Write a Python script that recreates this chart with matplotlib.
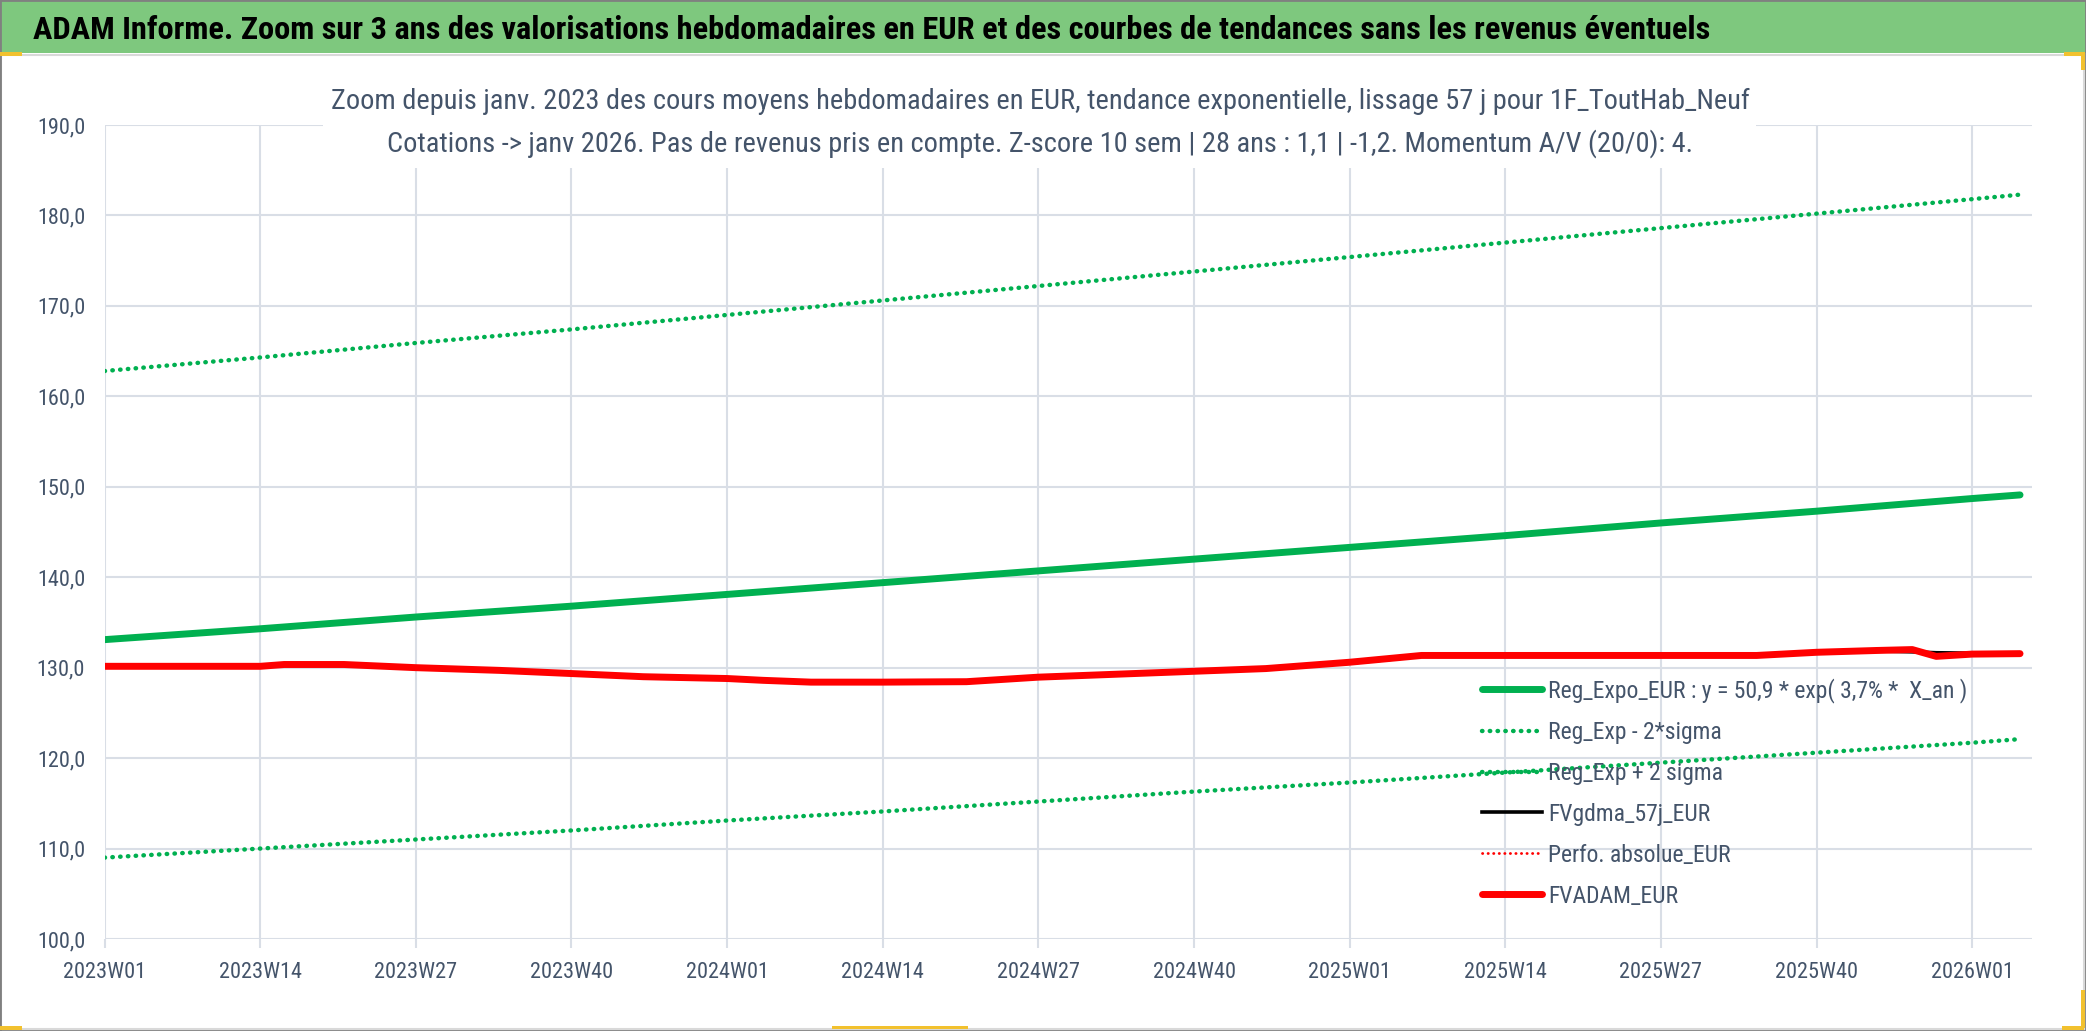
import matplotlib
matplotlib.use('Agg')
import matplotlib.pyplot as plt
from matplotlib.patches import Rectangle

plt.rcParams['font.family'] = ['Roboto Condensed', 'PT Sans Narrow', 'Archivo Narrow',
                               'IBM Plex Sans Condensed', 'DejaVu Sans']

# ---------------- data ----------------
weeks = ([f"{y}W{w:02d}" for y in (2023, 2024, 2025) for w in range(1, 53)]
         + [f"2026W{w:02d}" for w in range(1, 7)])
tick_labels = ["2023W01", "2023W14", "2023W27", "2023W40", "2024W01", "2024W14",
               "2024W27", "2024W40", "2025W01", "2025W14", "2025W27", "2025W40",
               "2026W01"]
trend_weeks = ["2023W01", "2023W14", "2023W27", "2023W40", "2024W01", "2024W14",
               "2024W27", "2024W40", "2025W01", "2025W14", "2025W27", "2025W40",
               "2026W01", "2026W05"]
reg_expo = [133.1, 134.3, 135.6, 136.8, 138.1, 139.4, 140.7, 142.0, 143.3,
            144.6, 146.0, 147.3, 148.7, 149.1]
reg_minus = [109.0, 110.0, 111.0, 112.0, 113.1, 114.1, 115.2, 116.3, 117.3,
             118.4, 119.5, 120.6, 121.7, 122.1]
reg_plus = [162.8, 164.3, 165.9, 167.4, 169.0, 170.6, 172.2, 173.8, 175.4,
            177.0, 178.6, 180.2, 181.8, 182.3]
fv_weeks = ["2023W01", "2023W14", "2023W16", "2023W21", "2023W27", "2023W34",
            "2023W40", "2023W46", "2024W01", "2024W04", "2024W08", "2024W14",
            "2024W21", "2024W27", "2024W34", "2024W40", "2024W46", "2025W01",
            "2025W05", "2025W07", "2025W35", "2025W40", "2025W45", "2025W48",
            "2025W50", "2026W01", "2026W05"]
fvadam = [130.15, 130.15, 130.35, 130.35, 130.0, 129.7, 129.35, 129.0, 128.8,
          128.6, 128.4, 128.4, 128.45, 128.95, 129.3, 129.6, 129.9, 130.6,
          131.1, 131.35, 131.35, 131.7, 131.9, 132.0, 131.25, 131.5, 131.55]
fvgdma = [130.15, 130.15, 130.3, 130.35, 130.0, 129.7, 129.35, 129.0, 128.85,
          128.65, 128.45, 128.45, 128.5, 128.95, 129.3, 129.6, 129.9, 130.5,
          131.0, 131.3, 131.35, 131.7, 131.85, 131.75, 131.65, 131.6, 131.55]
perfo_weeks = []
perfo = []

yticks = [100, 110, 120, 130, 140, 150, 160, 170, 180, 190]

title = ("ADAM Informe. Zoom sur 3 ans des valorisations hebdomadaires en EUR "
         "et des courbes de tendances sans les revenus éventuels")
subtitle1 = ("Zoom depuis janv. 2023 des cours moyens hebdomadaires en EUR, "
             "tendance exponentielle, lissage 57 j pour 1F_ToutHab_Neuf")
subtitle2 = ("Cotations -> janv 2026. Pas de revenus pris en compte. "
             "Z-score 10 sem | 28 ans : 1,1 | -1,2. Momentum A/V (20/0): 4.")
labels = ["Reg_Expo_EUR : y = 50,9 * exp( 3,7% *  X_an )", "Reg_Exp - 2*sigma",
          "Reg_Exp + 2 sigma", "FVgdma_57j_EUR", "Perfo. absolue_EUR", "FVADAM_EUR"]

# ---------------- figure ----------------
W, H = 2086, 1031
fig = plt.figure(figsize=(W / 100, H / 100), dpi=100)


def fx(p):
    return p / W


def fy(p):
    return 1 - p / H


# header band and chart background
fig.patches.append(Rectangle((0, fy(53)), 1, 53 / H, transform=fig.transFigure,
                             facecolor='#7EC87E', edgecolor='none', zorder=-2))
fig.patches.append(Rectangle((fx(1), fy(1029)), fx(2083), (1029 - 55) / H,
                             transform=fig.transFigure, facecolor='white',
                             edgecolor='#D9D9D9', lw=1.5, zorder=-2))
fig.text(fx(33), fy(30), title, fontsize=23.3, fontweight='bold', color='black',
         ha='left', va='center')

ax = fig.add_axes([fx(104.6), fy(939), fx(2032 - 104.6), (939 - 125) / H])
ax.set_facecolor('none')
for s in ax.spines.values():
    s.set_visible(False)

grid_c = '#D9DEE6'
ax.set_xlim(0, len(weeks) - 1)
ax.set_ylim(100, 190)
ax.set_yticks(yticks)
ax.set_yticklabels([f"{v:.1f}".replace('.', ',') for v in yticks])
ax.set_xticks([weeks.index(t) for t in tick_labels])
ax.set_xticklabels(tick_labels)
ax.grid(True, color=grid_c, lw=1.5, zorder=0)
ax.set_axisbelow(True)
ax.tick_params(axis='y', length=0, pad=14, labelsize=16, labelcolor='#44546A')
ax.tick_params(axis='x', length=6.5, width=1.5, color=grid_c, pad=10,
               labelsize=16, labelcolor='#44546A')

tx = [weeks.index(w) for w in trend_weeks]
fx_ = [weeks.index(w) for w in fv_weeks]
px_ = [weeks.index(w) for w in perfo_weeks]
dot = (0, (0.1, 1.65))
h1, = ax.plot(tx, reg_expo, color='#00B050', lw=5, solid_capstyle='round', zorder=3)
h2, = ax.plot(tx, reg_minus, color='#00B050', lw=3.2, ls=dot,
              dash_capstyle='round', zorder=3)
h3, = ax.plot(tx, reg_plus, color='#00B050', lw=3.2, ls=dot,
              dash_capstyle='round', zorder=3)
h4, = ax.plot(fx_, fvgdma, color='black', lw=2.6, zorder=4)
h5, = ax.plot(px_, perfo, color='#FF0000', lw=2.0, ls=(0, (0.1, 1.9)),
              dash_capstyle='round', zorder=4)
h6, = ax.plot(fx_, fvadam, color='#FF0000', lw=5, solid_capstyle='round', zorder=5)

leg = ax.legend([h1, h2, h3, h4, h5, h6], labels, loc='upper left',
                bbox_to_anchor=(fx(1482), fy(678)), bbox_transform=fig.transFigure,
                frameon=False, fontsize=17, handlelength=2.55, handletextpad=0.25,
                labelspacing=0.76, borderpad=0, borderaxespad=0)
for t in leg.get_texts():
    t.set_color('#44546A')

# subtitle box covering the top of the plot area
fig.patches.append(Rectangle((fx(323), fy(168)), fx(1756 - 323), (168 - 60) / H,
                             transform=fig.transFigure, facecolor='white',
                             edgecolor='none', zorder=5))
fig.text(fx(1040), fy(101), subtitle1, fontsize=20.4, color='#44546A',
         ha='center', va='center', zorder=6)
fig.text(fx(1040), fy(144), subtitle2, fontsize=20.4, color='#44546A',
         ha='center', va='center', zorder=6)

# outer border and selection handles
fig.patches.append(Rectangle((0, 0), 1, 1, transform=fig.transFigure,
                             facecolor='none', edgecolor='#808080', lw=2, zorder=7))
for (x0, y0, w, h) in [(0, 52, 22, 4), (2064, 52, 20, 4), (2081, 52, 4, 18),
                       (0, 1026, 22, 4), (832, 1026, 136, 3), (2062, 1026, 22, 4),
                       (2081, 990, 4, 38)]:
    fig.patches.append(Rectangle((fx(x0), fy(y0 + h)), fx(w), h / H,
                                 transform=fig.transFigure, facecolor='#F2C12E',
                                 edgecolor='none', zorder=8))

fig.savefig('out.png', dpi=100)
